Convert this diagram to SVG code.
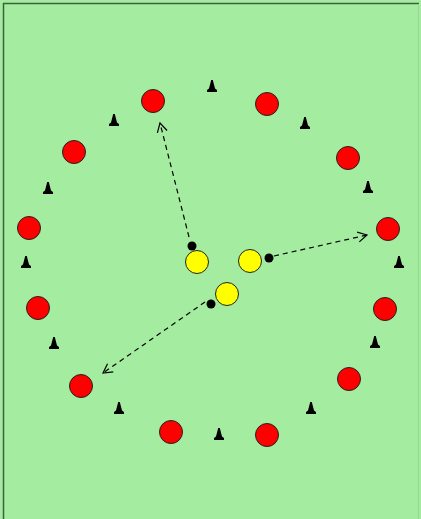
<svg xmlns="http://www.w3.org/2000/svg" width="421" height="519" viewBox="0 0 421 519">
<style>
.red{fill:#ff0000;stroke:#222;stroke-width:1}
.yel{fill:#ffff00;stroke:#222;stroke-width:1}
.ball{fill:#000}
.cone{fill:#000}
.run{fill:none;stroke:#000;stroke-width:1.2;stroke-dasharray:5 4}
</style>
<defs>
<marker id="ah" markerWidth="12" markerHeight="12" refX="10" refY="6" orient="auto" markerUnits="userSpaceOnUse">
<path d="M1,1 L10,6 L1,11" fill="none" stroke="#000" stroke-width="1.2"/>
</marker>
<path id="cn" d="M-0.8,-12 L0.8,-12 L3,-3.5 L5,-2 L5,0 L-5,0 L-5,-2 L-3,-3.5 Z"/>
</defs>
<rect x="0" y="0" width="421" height="519" fill="#a4eca0"/>
<line x1="3" y1="3.5" x2="419" y2="3.5" stroke="#3f5f3f" stroke-width="1.5"/>
<line x1="3.5" y1="3" x2="3.5" y2="519" stroke="#3f5f3f" stroke-width="1.5"/>
<line x1="418.5" y1="4" x2="418.5" y2="519" stroke="#96d892" stroke-width="1"/>
<g id="connectors">
<line class="run" x1="189" y1="237" x2="160" y2="123" marker-end="url(#ah)"/>
<line class="run" x1="274" y1="256" x2="367" y2="235" marker-end="url(#ah)"/>
<line class="run" x1="205" y1="302" x2="103" y2="373" marker-end="url(#ah)"/>
</g>
<g id="cones" class="cone">
<use href="#cn" x="212" y="92"/>
<use href="#cn" x="114" y="126"/>
<use href="#cn" x="305" y="129"/>
<use href="#cn" x="48" y="194"/>
<use href="#cn" x="368" y="193"/>
<use href="#cn" x="26" y="268"/>
<use href="#cn" x="399" y="268"/>
<use href="#cn" x="54" y="349"/>
<use href="#cn" x="375" y="348"/>
<use href="#cn" x="119" y="414"/>
<use href="#cn" x="311" y="414"/>
<use href="#cn" x="219" y="440"/>
</g>
<g id="reds">
<circle id="r1" class="red" cx="153" cy="101" r="11.5"/>
<circle id="r2" class="red" cx="267" cy="104" r="11.5"/>
<circle id="r3" class="red" cx="74" cy="152" r="11.5"/>
<circle id="r4" class="red" cx="348" cy="158" r="11.5"/>
<circle id="r5" class="red" cx="29" cy="228" r="11.5"/>
<circle id="r6" class="red" cx="388" cy="229" r="11.5"/>
<circle id="r7" class="red" cx="38" cy="308" r="11.5"/>
<circle id="r8" class="red" cx="385" cy="309" r="11.5"/>
<circle id="r9" class="red" cx="81" cy="386" r="11.5"/>
<circle id="r10" class="red" cx="349" cy="379" r="11.5"/>
<circle id="r11" class="red" cx="171" cy="432" r="11.5"/>
<circle id="r12" class="red" cx="267" cy="435" r="11.5"/>
</g>
<g id="yellows">
<circle id="y1" class="yel" cx="197" cy="262" r="11.5"/>
<circle id="y2" class="yel" cx="250" cy="261" r="11.5"/>
<circle id="y3" class="yel" cx="227" cy="294" r="11.5"/>
</g>
<g id="balls">
<circle class="ball" cx="192" cy="246" r="4.5"/>
<circle class="ball" cx="269" cy="258" r="4.5"/>
<circle class="ball" cx="211" cy="304" r="4.5"/>
</g>
</svg>
